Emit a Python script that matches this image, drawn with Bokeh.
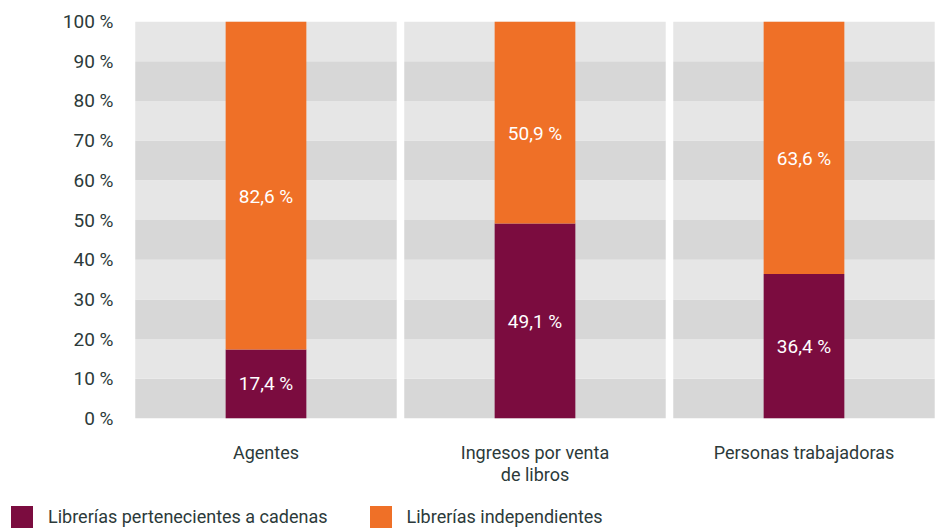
from bokeh.plotting import figure
from bokeh.models import FactorRange, ColumnDataSource, Div
from bokeh.layouts import column
from bokeh.embed import file_html
from bokeh.resources import INLINE
from bokeh.core.properties import value

categories = ["Agentes", "Ingresos por venta\nde libros", "Personas trabajadoras"]
cadenas = [17.4, 49.1, 36.4]
independientes = [82.6, 50.9, 63.6]
series_names = ["Librerías pertenecientes a cadenas", "Librerías independientes"]
ticks = [0, 10, 20, 30, 40, 50, 60, 70, 80, 90, 100]
tick_labels = {t: f"{t} %" for t in ticks}

FONT = "Roboto"
TXT = "#2c3a3a"
PURPLE = "#7b0c3f"
ORANGE = "#ef7027"
LIGHT = "#e6e6e6"
DARK = "#d7d7d7"

p = figure(x_range=FactorRange(*categories, range_padding=0), y_range=(0, 100),
           width=938, height=490, output_backend="svg", toolbar_location=None,
           min_border_left=131, min_border_right=0, min_border_top=21, min_border_bottom=72)
p.outline_line_color = None
p.grid.visible = False
p.background_fill_color = "white"

# background bands
bx, bb, bt, bc = [], [], [], []
for c in categories:
    for i in range(len(ticks) - 1):
        bx.append(c); bb.append(ticks[i]); bt.append(ticks[i + 1])
        bc.append(DARK if i % 2 == 0 else LIGHT)
p.vbar(x=bx, bottom=bb, top=bt, width=0.972, fill_color=bc, line_color=None)

tops2 = [a + b for a, b in zip(cadenas, independientes)]
src = ColumnDataSource(dict(x=categories, c=cadenas, t2=tops2,
                            lc=[f"{v:.1f} %".replace(".", ",") for v in cadenas],
                            li=[f"{v:.1f} %".replace(".", ",") for v in independientes],
                            yc=[v / 2 for v in cadenas],
                            yi=[a + b / 2 - 2.8 for a, b in zip(cadenas, independientes)]))
r1 = p.vbar(x="x", bottom=0, top="c", width=0.3, source=src, fill_color=PURPLE, line_color=None)
r2 = p.vbar(x="x", bottom="c", top="t2", width=0.3, source=src, fill_color=ORANGE, line_color=None)

for col, ycol in (("lc", "yc"), ("li", "yi")):
    p.text(x="x", y=ycol, text=col, source=src, text_color="white",
           text_align="center", text_baseline="middle",
           text_font=value(FONT), text_font_size="19px")

p.yaxis.ticker = ticks
p.yaxis.major_label_overrides = tick_labels
p.yaxis.axis_line_color = None
p.yaxis.major_tick_line_color = None
p.yaxis.minor_tick_line_color = None
p.yaxis.major_label_standoff = 12
p.yaxis.major_label_text_font = FONT
p.yaxis.major_label_text_font_size = "19px"
p.yaxis.major_label_text_color = TXT

p.xaxis.axis_line_color = None
p.xaxis.major_tick_line_color = None
p.xaxis.major_label_standoff = 17
p.xaxis.major_label_text_font = FONT
p.xaxis.major_label_text_font_size = "18px"
p.xaxis.major_label_text_color = TXT
p.xaxis.major_label_text_line_height = 1.05

# legend as an HTML strip below the chart
def swatch(color, first):
    ml = "0" if first else "42px"
    return (f'<span style="display:inline-block;width:22px;height:22px;background:{color};'
            f'margin-left:{ml};margin-right:15px;flex:none"></span>')

items = "".join(swatch(c, i == 0) + f'<span style="line-height:22px">{n}</span>'
                for i, (c, n) in enumerate(zip([PURPLE, ORANGE], series_names)))
html = (f'<div style="display:flex;align-items:flex-end;font-family:Roboto;font-size:18px;'
        f'color:{TXT};box-sizing:border-box;padding:0 0 0 11px;margin:0;height:38px;'
        f'white-space:nowrap">{items}</div>')
legend_div = Div(text=html, width=938, height=38, margin=(0, 0, 0, 0))

open("out.html", "w").write(file_html(column(p, legend_div, spacing=0), INLINE))
